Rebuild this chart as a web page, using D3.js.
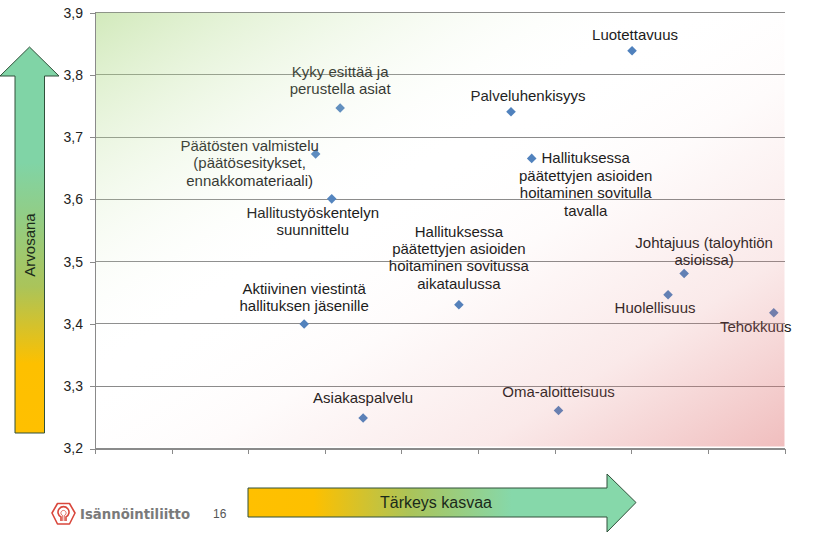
<!DOCTYPE html>
<html><head><meta charset="utf-8">
<script src="https://cdn.jsdelivr.net/npm/d3@7"></script>
<style>
html,body{margin:0;padding:0;background:#fff;}
svg{display:block;font-family:"Liberation Sans",Arial,sans-serif;}
</style></head>
<body><svg id="c" width="822" height="533"></svg>
<script>
// ---- data ----
const names = [
  "Luotettavuus",
  "Kyky esittää ja\nperustella asiat",
  "Palveluhenkisyys",
  "Päätösten valmistelu\n(päätösesitykset,\nennakkomateriaali)",
  "Hallituksessa\npäätettyjen asioiden\nhoitaminen sovitulla\ntavalla",
  "Hallitustyöskentelyn\nsuunnittelu",
  "Johtajuus (taloyhtiön\nasioissa)",
  "Huolellisuus",
  "Tehokkuus",
  "Hallituksessa\npäätettyjen asioiden\nhoitaminen sovitussa\naikataulussa",
  "Aktiivinen viestintä\nhallituksen jäsenille",
  "Asiakaspalvelu",
  "Oma-aloitteisuus"
];
const importance = [7.01, 3.20, 5.43, 2.88, 5.70, 3.09, 7.69, 7.48, 8.86, 4.75, 2.73, 3.50, 6.05];
const rating     = [3.839, 3.747, 3.741, 3.673, 3.666, 3.601, 3.481, 3.447, 3.418, 3.431, 3.400, 3.249, 3.261];
const yTicks = [3.2, 3.3, 3.4, 3.5, 3.6, 3.7, 3.8, 3.9];
const xTicks = [0, 1, 2, 3, 4, 5, 6, 7, 8, 9];
const yTitle = "Arvosana";
const xTitle = "Tärkeys kasvaa";
const brand = "Isännöintiliitto";
const pageNo = "16";

// label placement (offset of label centre / first baseline from point)
const labelOffsets = [
  [3, -11], [0, -31], [17, -11], [-66, -3], [54, 5], [-19, 19],
  [20, -26], [-13, 18], [-18, 19], [0, -68], [0, -30], [0, -15], [0, -14]
];

// ---- layout ----
const svg = d3.select("#c");
const L = 95, R = 784.5, T = 12.7, B = 448.5;
const x = d3.scaleLinear().domain([0, 9]).range([L, R]);
const y = d3.scaleLinear().domain([3.2, 3.9]).range([B, T]);
const fmt = d3.formatLocale({decimal: ",", thousands: " ", grouping: [3], currency: ["", "€"]}).format(".1f");

const defs = svg.append("defs");
const bg = defs.append("linearGradient").attr("id", "bg")
  .attr("x1", 0).attr("y1", 0).attr("x2", 1).attr("y2", 1);
bg.append("stop").attr("offset", 0).attr("stop-color", "rgb(165,212,120)").attr("stop-opacity", 0.5);
bg.append("stop").attr("offset", 0.2).attr("stop-color", "rgb(195,228,165)").attr("stop-opacity", 0.22);
bg.append("stop").attr("offset", 0.42).attr("stop-color", "#ffffff").attr("stop-opacity", 0);
bg.append("stop").attr("offset", 0.58).attr("stop-color", "rgb(225,120,120)").attr("stop-opacity", 0.03);
bg.append("stop").attr("offset", 0.78).attr("stop-color", "rgb(225,120,120)").attr("stop-opacity", 0.16);
bg.append("stop").attr("offset", 1).attr("stop-color", "rgb(222,110,110)").attr("stop-opacity", 0.45);

const vg = defs.append("linearGradient").attr("id", "vg")
  .attr("x1", 0).attr("y1", 0).attr("x2", 0).attr("y2", 1);
vg.append("stop").attr("offset", 0).attr("stop-color", "#80d4a6");
vg.append("stop").attr("offset", 0.3).attr("stop-color", "#80d4a6");
vg.append("stop").attr("offset", 0.62).attr("stop-color", "#aac45a");
vg.append("stop").attr("offset", 0.82).attr("stop-color", "#fdc000");
vg.append("stop").attr("offset", 1).attr("stop-color", "#ffc000");

const hg = defs.append("linearGradient").attr("id", "hg")
  .attr("x1", 0).attr("y1", 0).attr("x2", 1).attr("y2", 0);
hg.append("stop").attr("offset", 0).attr("stop-color", "#ffc000");
hg.append("stop").attr("offset", 0.17).attr("stop-color", "#fdc000");
hg.append("stop").attr("offset", 0.42).attr("stop-color", "#aac45a");
hg.append("stop").attr("offset", 0.68).attr("stop-color", "#86d8aa");
hg.append("stop").attr("offset", 1).attr("stop-color", "#86d8aa");

// gridlines
svg.append("g").selectAll("line").data(yTicks).join("line")
  .attr("x1", L).attr("x2", R).attr("y1", d => y(d)).attr("y2", d => y(d))
  .attr("stroke", "#8a8a8a").attr("stroke-width", 1).attr("shape-rendering", "crispEdges");

// axes
const yAxis = svg.append("g").attr("transform", `translate(${L},0)`)
  .call(d3.axisLeft(y).tickValues(yTicks).tickFormat(fmt).tickSize(5).tickPadding(7));
const xAxis = svg.append("g").attr("transform", `translate(0,${B})`)
  .call(d3.axisBottom(x).tickValues(xTicks).tickFormat("").tickSize(5));
[yAxis, xAxis].forEach(a => {
  a.select(".domain").attr("stroke", "#8a8a8a").attr("shape-rendering", "crispEdges");
  a.selectAll(".tick line").attr("stroke", "#8a8a8a").attr("shape-rendering", "crispEdges");
});
yAxis.selectAll("text").attr("font-size", 14).attr("fill", "#222")
  .attr("font-family", "Liberation Sans, Arial, sans-serif");

// points
const pts = names.map((n, i) => ({n, x: importance[i], y: rating[i], o: labelOffsets[i]}));
const sym = d3.symbol().type(d3.symbolSquare).size(46);
svg.append("g").selectAll("path").data(pts).join("path")
  .attr("d", sym)
  .attr("transform", d => `translate(${x(d.x)},${y(d.y)}) rotate(45)`)
  .attr("fill", "#4f81bd");

// labels
const lg = svg.append("g").attr("font-size", 15).attr("fill", "#1a1a1a").attr("text-anchor", "middle");
pts.forEach(d => {
  const t = lg.append("text")
    .attr("x", x(d.x) + d.o[0]).attr("y", y(d.y) + d.o[1]);
  d.n.split("\n").forEach((line, j) => {
    t.append("tspan").attr("x", x(d.x) + d.o[0]).attr("dy", j === 0 ? 0 : 17.4).text(line);
  });
});

// gradient overlay
svg.append("rect").attr("x", L + 1).attr("y", T).attr("width", R - L - 1).attr("height", B - T - 2)
  .attr("fill", "url(#bg)");

// vertical arrow
const va = [[15, 433], [15, 76], [0, 76], [29.5, 47], [59, 76], [44.5, 76], [44.5, 433]];
svg.append("path").attr("d", "M" + va.join("L") + "Z")
  .attr("fill", "url(#vg)").attr("stroke", "#30503a").attr("stroke-width", 1);
svg.append("text").attr("transform", "translate(35,245) rotate(-90)")
  .attr("text-anchor", "middle").attr("font-size", 15).attr("fill", "#1a2a1a").text(yTitle);

// horizontal arrow
const ha = [[248, 488], [607, 488], [607, 474], [636, 502.5], [607, 532], [607, 517], [248, 517]];
svg.append("path").attr("d", "M" + ha.join("L") + "Z")
  .attr("fill", "url(#hg)").attr("stroke", "#30503a").attr("stroke-width", 1);
svg.append("text").attr("x", 436).attr("y", 508).attr("text-anchor", "middle")
  .attr("font-size", 16).attr("fill", "#1a2a1a").text(xTitle);

// logo
const logo = svg.append("g").attr("transform", "translate(63.5,514)");
logo.append("path")
  .attr("d", "M-6,-10.5 L6,-10.5 L11.5,-1 L6,10 L-6,10 L-11.5,-1 Z")
  .attr("fill", "none").attr("stroke", "#d9473c").attr("stroke-width", 1.6).attr("stroke-linejoin", "round");
logo.append("path")
  .attr("d", "M-2.5,7 L-2.5,3 A5.5,5.5 0 1 1 2.5,3 L2.5,7")
  .attr("fill", "none").attr("stroke", "#d9473c").attr("stroke-width", 1.6);
logo.append("path")
  .attr("d", "M-0.8,7 L-0.8,1.5 A2.6,2.6 0 1 1 0.8,1.5 L0.8,7")
  .attr("fill", "none").attr("stroke", "#d9473c").attr("stroke-width", 0.8);
svg.append("text").attr("x", 80).attr("y", 519).attr("font-size", 14).attr("font-weight", "bold")
  .attr("fill", "#7a7a7a").attr("font-family", "DejaVu Sans, sans-serif")
  .attr("textLength", 110).attr("lengthAdjust", "spacingAndGlyphs").text(brand);
svg.append("text").attr("x", 213).attr("y", 518).attr("font-size", 12)
  .attr("fill", "#555").text(pageNo);
</script></body></html>
